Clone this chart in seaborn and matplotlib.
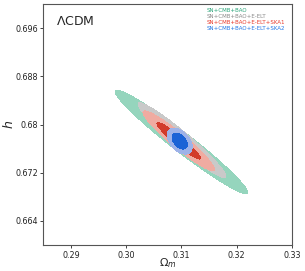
import numpy as np
import matplotlib
matplotlib.use('Agg')
import matplotlib.pyplot as plt
import seaborn as sns

# Datensätze (Gauss-Näherung der Posterior: Mittelwert, Sigma, Korrelation)
labels = ['SN+CMB+BAO', 'SN+CMB+BAO+E-ELT', 'SN+CMB+BAO+E-ELT+SKA1', 'SN+CMB+BAO+E-ELT+SKA2']
om_mean = [0.3100, 0.3101, 0.3095, 0.3097]
h_mean = [0.6771, 0.6774, 0.6773, 0.67725]
om_sigma = [0.00483, 0.0032, 0.0026, 0.00091]
h_sigma = [0.00346, 0.0025, 0.0020, 0.00087]
rho = [-0.972, -0.963, -0.95, -0.45]

fill_colors = [('#95d5bd', '#95d5bd'), ('#c9c9c9', '#a9a9a9'),
               ('#f0aba1', '#d23b2a'), ('#9db2e8', '#1b63d6')]
text_colors = ['#2aa57a', '#8a8a8a', '#e8392b', '#2277e6']

xticks = [0.29, 0.30, 0.31, 0.32, 0.33]
yticks = [0.664, 0.672, 0.68, 0.688, 0.696]

sns.set_style('ticks')
fig = plt.figure(figsize=(3.05, 2.71), dpi=100)
ax = fig.add_axes([0.142, 0.096, 0.815, 0.889])

x = np.linspace(0.285, 0.33, 600)
y = np.linspace(0.66, 0.70, 600)
X, Y = np.meshgrid(x, y)

for i in range(len(labels)):
    dx = (X - om_mean[i]) / om_sigma[i]
    dy = (Y - h_mean[i]) / h_sigma[i]
    r = rho[i]
    chi2 = (dx**2 - 2 * r * dx * dy + dy**2) / (1 - r**2)
    ax.contourf(X, Y, chi2, levels=[2.30, 6.17], colors=[fill_colors[i][0]])
    ax.contourf(X, Y, chi2, levels=[0, 2.30], colors=[fill_colors[i][1]])

ax.set_xlim(0.285, 0.33)
ax.set_ylim(0.66, 0.70)
ax.set_xticks(xticks)
ax.set_xticklabels(['0.29', '0.30', '0.31', '0.32', '0.33'])
ax.set_yticks(yticks)
ax.set_yticklabels(['0.664', '0.672', '0.68', '0.688', '0.696'])
ax.tick_params(labelsize=5.8, length=2.5, width=0.6, pad=1.5, colors='#222222')
for s in ax.spines.values():
    s.set_color('#555555')
    s.set_linewidth(0.8)

ax.set_xlabel(r'$\Omega_m$', fontsize=8, labelpad=-2.5)
ax.set_ylabel(r'$h$', fontsize=9, labelpad=-0.5)

ax.text(0.05, 0.955, r'$\Lambda$CDM', transform=ax.transAxes, fontsize=9, va='top')
for i, lab in enumerate(labels):
    ax.text(0.655, 0.985 - i * 0.026, lab, transform=ax.transAxes, fontsize=4.0,
            color=text_colors[i], va='top')

fig.savefig('out.png', dpi=100)
